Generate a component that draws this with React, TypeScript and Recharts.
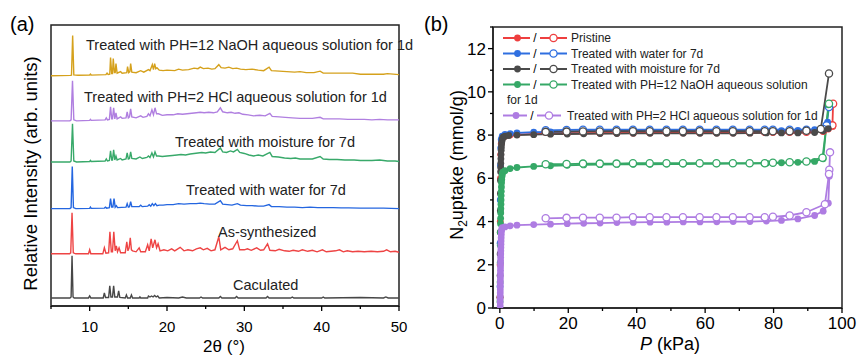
import React from 'react';
import { LineChart, Line, XAxis, YAxis, ReferenceArea } from 'recharts';

const FONT = '"Liberation Sans", Arial, sans-serif';

// ---------- (a) PXRD patterns: [2theta, intensity above own baseline] ----------
const XRD_LABELS = [
  'Caculated',
  'As-synthesized',
  'Treated with water for 7d',
  'Treated with moisture for 7d',
  'Treated with PH=2 HCl aqueous solution for 1d',
  'Treated with PH=12 NaOH aqueous solution for 1d',
];
const XRD_COLORS = ['#474747', '#EE4444', '#2466E0', '#38A96A', '#B07FE0', '#D5A11C'];
const XRD_OFFSETS = [8, 52, 97, 143.5, 184.5, 229.5];

const calculated: [number, number][] = [
  [5, 0], [7.45, 0], [7.6, 1], [7.72, 42], [7.85, 1], [8, 0], [9.85, 0], [10, 2], [10.15, 0],
  [11.75, 0], [11.9, 5], [12.05, 0.5], [12.45, 0.5], [12.6, 12], [12.75, 1], [12.95, 1], [13.1, 12],
  [13.25, 1], [13.6, 1], [13.75, 7], [13.9, 0.5], [14.6, 0], [14.75, 3], [14.9, 0], [15.25, 0],
  [15.4, 3], [15.55, 0], [16.4, 0], [16.5, 1], [16.6, 0], [17.5, 0], [17.6, 2], [17.8, 1], [18.0, 2],
  [18.2, 1], [18.4, 2.5], [18.6, 1], [18.8, 2], [19.0, 0], [20, 0.5], [21.5, 0], [22, 1], [22.5, 0],
  [24.2, 0], [24.4, 1], [24.6, 0], [26.7, 0], [26.9, 1.5], [27.1, 0], [28.8, 0], [29, 1.5], [29.2, 0],
  [32.8, 0], [33, 1.5], [33.2, 0], [36, 0], [36.2, 1], [36.4, 0], [40, 0], [40.2, 1], [40.4, 0],
  [45, 0.5], [48, 0], [48.3, 1], [48.6, 0], [50, 0],
];

const asSynthesized: [number, number][] = [
  [5, 0], [7.4, 0], [7.55, 1], [7.72, 41], [7.88, 1], [8.2, 0], [9.85, 0], [10.0, 4], [10.15, 0],
  [11.7, 0], [11.9, 6], [12.1, 0.5], [12.45, 1], [12.62, 22], [12.8, 2], [12.95, 2], [13.12, 22],
  [13.3, 3], [13.45, 8], [13.6, 2], [13.8, 6], [14.0, 1], [14.6, 1], [14.8, 12], [14.95, 3], [15.1, 6],
  [15.25, 16], [15.4, 4], [15.55, 3], [16.0, 2], [16.4, 6], [16.6, 2], [17.2, 2], [17.5, 9], [17.7, 3],
  [17.95, 15], [18.15, 6], [18.45, 14], [18.65, 6], [18.85, 10], [19.1, 3], [19.6, 4], [20.1, 3],
  [20.6, 5], [21.0, 3], [21.7, 6.5], [22.2, 3], [22.7, 4], [23.3, 3], [23.8, 5], [24.3, 6], [24.7, 4],
  [25.2, 5.5], [25.7, 3], [26.2, 4], [26.7, 17], [26.95, 4], [27.5, 6.5], [28.0, 4], [28.5, 5],
  [29.1, 13], [29.4, 4], [30.0, 4], [30.4, 5], [30.9, 3.5], [31.6, 6], [32.1, 3.5], [32.5, 4],
  [33.0, 10], [33.3, 3.5], [34.0, 3], [34.5, 4.5], [35.2, 3], [35.8, 2.5], [36.3, 3.5], [37.0, 2.5],
  [37.5, 4], [38.2, 2.5], [38.8, 3.5], [39.4, 2], [40.1, 4], [40.6, 2], [41.2, 2.5], [41.8, 3],
  [42.3, 4], [42.8, 2], [43.3, 3], [44.0, 2], [44.7, 2.5], [45.5, 2], [46.4, 2.5], [47.2, 2],
  [48.0, 2.5], [48.4, 4], [48.9, 2], [49.5, 2.5], [50, 1.5],
];

const water: [number, number][] = [
  [5, 0], [7.45, 0], [7.6, 1], [7.75, 42], [7.9, 1], [8.2, 0], [10.0, 0.3], [10.1, 1.5], [10.2, 0.3],
  [11.9, 0.5], [12.05, 1.5], [12.2, 0.5], [12.55, 1], [12.7, 10], [12.85, 1.5], [13.0, 1.5],
  [13.15, 10], [13.3, 1.5], [13.45, 3], [13.6, 1], [14.7, 1.5], [14.85, 5], [15.0, 1.5], [15.15, 2],
  [15.3, 7], [15.45, 2], [16.4, 2], [16.6, 3.5], [16.8, 2], [17.5, 2.5], [17.7, 4], [17.9, 2.5],
  [18.1, 5], [18.3, 3], [18.5, 5], [18.7, 3], [19.0, 3.5], [19.5, 3.5], [20.0, 4], [20.8, 4],
  [21.5, 5], [22.2, 4.5], [23.0, 5], [23.8, 5], [24.3, 5.5], [24.8, 5], [25.5, 4.5], [26.2, 4.5],
  [26.9, 8], [27.2, 4.5], [27.8, 4], [28.4, 3.5], [29.1, 5], [29.5, 3.5], [30.3, 3], [31.0, 3],
  [31.8, 2.5], [32.5, 2.5], [33.2, 4], [33.5, 2], [34.5, 2], [35.5, 1.5], [36.5, 1.5], [37.5, 1],
  [38.5, 1.5], [39.5, 1], [40.5, 1], [41.5, 1], [42.5, 0.8], [43.5, 0.8], [45, 0.5], [46.5, 0.5],
  [48, 0.5], [49, 0.3], [50, 0],
];

const moisture: [number, number][] = [
  [5, 0], [7.45, 0], [7.6, 1], [7.78, 38], [7.95, 1], [8.3, 0], [10.0, 0.5], [10.1, 1.5], [10.2, 0.5],
  [12.0, 1], [12.15, 3], [12.3, 1], [12.55, 1.5], [12.7, 11], [12.85, 2], [12.95, 2], [13.1, 12],
  [13.25, 2], [13.4, 6], [13.55, 2], [14.0, 3.5], [14.2, 2], [14.7, 3], [14.85, 9], [15.0, 3],
  [15.15, 3.5], [15.3, 10], [15.45, 3.5], [16.0, 3], [16.5, 5], [16.8, 3.5], [17.4, 4.5], [17.6, 6],
  [17.8, 4.5], [18.05, 9], [18.25, 5], [18.45, 10], [18.65, 6], [18.9, 6], [19.4, 5.5], [20.0, 6],
  [20.7, 6.5], [21.3, 7], [21.8, 7.5], [22.4, 7], [23.0, 8], [23.5, 8.5], [24.0, 9], [24.5, 9.5],
  [25.0, 9], [25.6, 10], [26.2, 9.5], [26.9, 14], [27.2, 10], [27.7, 9.5], [28.2, 11], [28.6, 10],
  [29.1, 12.5], [29.4, 9.5], [30.0, 8.5], [30.6, 7], [31.2, 6], [31.8, 7], [32.4, 6], [33.3, 9.5],
  [33.6, 5.5], [34.4, 5], [35.2, 4], [36.0, 3.5], [36.6, 4], [37.2, 3], [38.0, 3], [38.8, 3],
  [39.8, 5.5], [40.2, 3], [41.0, 2.5], [42.0, 2.5], [43.0, 2], [44.2, 2], [45.0, 1.5], [46.5, 1.5],
  [47.5, 2], [48.5, 1], [49.5, 1], [50, 0.5],
];

const hcl: [number, number][] = [
  [5, 0], [7.45, 0], [7.6, 1], [7.78, 40], [7.95, 1], [8.3, 0], [10.0, 0.5], [10.1, 1.5], [10.2, 0.5],
  [12.0, 1], [12.15, 3], [12.3, 1], [12.55, 1.5], [12.7, 14], [12.85, 2], [12.95, 2], [13.1, 13],
  [13.25, 2], [13.4, 8], [13.55, 2], [14.0, 4], [14.2, 2.5], [14.7, 3], [14.85, 9], [15.0, 3],
  [15.15, 4], [15.3, 12], [15.45, 4], [16.0, 3], [16.6, 5], [16.9, 3.5], [17.4, 4.5], [17.6, 7],
  [17.8, 5], [18.05, 11], [18.25, 6], [18.45, 13], [18.65, 7], [18.9, 7], [19.4, 5.5], [20.0, 6],
  [20.8, 6], [21.4, 7], [22.0, 6.5], [22.6, 7], [23.2, 7.5], [23.8, 8], [24.3, 8.5], [24.8, 8],
  [25.4, 8.5], [26.0, 8], [26.5, 9], [26.9, 13], [27.2, 9], [27.8, 8], [28.3, 8.5], [28.8, 7.5],
  [29.3, 8], [29.8, 6.5], [30.5, 6], [31.2, 5], [32.0, 5.5], [32.7, 5], [33.3, 7.5], [33.6, 4.5],
  [34.5, 4], [35.3, 3.5], [36.2, 3], [37.2, 2.5], [38.0, 2.5], [38.8, 2.5], [39.8, 3.5], [40.2, 2],
  [41.2, 2], [42.3, 2], [43.4, 1.5], [44.5, 1.5], [45.5, 1.5], [46.5, 1], [47.5, 1.5], [48.5, 1],
  [49.5, 1], [50, 1],
];

const naoh: [number, number][] = [
  [5, 0], [7.5, 0.3], [7.65, 0.5], [7.8, 40], [7.95, 0.8], [8.5, 0.4], [10, 0.6], [10.1, 1.5],
  [10.2, 0.6], [12.1, 1], [12.25, 2.5], [12.4, 1.2], [12.6, 1.5], [12.7, 18], [12.85, 2], [12.95, 2],
  [13.05, 17], [13.2, 3], [13.3, 3], [13.4, 12], [13.55, 2.5], [14.0, 4], [14.2, 2.5], [14.8, 3],
  [14.9, 9], [15.05, 3], [15.2, 4], [15.3, 12], [15.45, 3.5], [16.0, 3], [16.6, 5], [17.0, 3.5],
  [17.6, 6], [17.8, 5], [18.1, 11], [18.25, 6], [18.4, 12], [18.55, 7], [18.7, 8], [19, 5.5],
  [19.5, 5], [20, 5.5], [21, 5], [21.5, 6.5], [22, 5.5], [22.8, 6], [23.5, 7.5], [24, 7], [24.3, 8.5],
  [24.7, 7], [25.3, 7.5], [25.8, 6.5], [26.2, 7], [26.7, 11], [27, 8], [27.5, 7.5], [28, 8.5],
  [28.5, 7], [29, 7.5], [29.5, 6.5], [30.2, 6], [31, 6.5], [31.8, 5.5], [32.5, 5], [33.2, 8.5],
  [33.5, 5], [34.5, 4.5], [35.5, 4], [36.5, 3.5], [37.2, 4], [38, 3], [39, 3], [39.8, 4.5],
  [40.2, 2.5], [41.5, 2.5], [42.5, 2.5], [44, 2.5], [45, 1.5], [46.5, 1.5], [48, 1.5], [48.5, 2],
  [50, 1],
];

const XRD_SERIES = [calculated, asSynthesized, water, moisture, hcl, naoh];
const XRD_TICKS = [5, 10, 15, 20, 25, 30, 35, 40, 45, 50];
const XRD_MAJOR = [10, 20, 30, 40, 50];

// ---------- (b) N2 isotherms: [P kPa, uptake mmol/g] ----------
const ISO_LABELS = [
  'Pristine',
  'Treated with water for 7d',
  'Treated with moisture for 7d',
  'Treated with PH=12 NaOH aqueous solution',
  'Treated with PH=2 HCl aqueous solution for 1d',
];
const ISO_COLORS = ['#EE3F3F', '#2F6FE0', '#4A4A4A', '#35A866', '#AE7CE2'];

const pristineAds: [number, number][] = [
  [0.05, 0.5], [0.08, 2], [0.12, 4], [0.18, 6], [0.25, 7.1], [0.4, 7.6], [0.7, 7.85], [1.5, 7.95],
  [3, 8.0], [5, 8.02], [9.9, 8.05], [14.8, 8.06], [19.7, 8.07], [24.5, 8.08], [29.3, 8.08],
  [34.2, 8.09], [39, 8.09], [43.9, 8.1], [48.8, 8.1], [53.6, 8.1], [58.5, 8.1], [63.4, 8.1],
  [68.2, 8.1], [73.1, 8.1], [77.9, 8.12], [82.3, 8.12], [87.1, 8.14], [92, 8.18], [94.5, 8.22],
  [96, 8.28], [97.3, 8.4],
];
const pristineDes: [number, number][] = [
  [97.4, 9.45], [97.2, 8.45], [94.5, 8.2], [89.6, 8.15], [84.7, 8.15], [79.8, 8.15], [77.4, 8.15],
  [73, 8.15], [68.1, 8.15], [63.3, 8.15], [58.4, 8.15], [53.5, 8.15], [48.7, 8.15], [43.8, 8.15],
  [38.9, 8.15], [34.1, 8.15], [29.2, 8.15], [24.3, 8.15], [19.5, 8.15], [13.4, 8.15],
];
const waterAds: [number, number][] = [
  [0.05, 1], [0.08, 3], [0.12, 5], [0.18, 6.6], [0.25, 7.4], [0.4, 7.8], [0.7, 7.95], [1.5, 8.03],
  [3, 8.07], [5, 8.1], [9.9, 8.13], [14.8, 8.15], [19.7, 8.17], [24.5, 8.18], [29.3, 8.19],
  [34.2, 8.2], [39, 8.2], [43.9, 8.2], [48.8, 8.2], [53.6, 8.2], [58.5, 8.2], [63.4, 8.2],
  [68.2, 8.2], [73.1, 8.2], [77.9, 8.2], [82.3, 8.2], [87.1, 8.22], [92, 8.25], [94.5, 8.3],
  [95.8, 8.6],
];
const waterDes: [number, number][] = [
  [96.2, 9.3], [95.5, 8.45], [94.5, 8.28], [89.6, 8.25], [84.7, 8.25], [79.8, 8.25], [77.4, 8.25],
  [73, 8.25], [68.1, 8.25], [63.3, 8.25], [58.4, 8.25], [53.5, 8.25], [48.7, 8.25], [43.8, 8.25],
  [38.9, 8.25], [34.1, 8.25], [29.2, 8.25], [24.3, 8.25], [19.5, 8.24], [13.4, 8.22],
];
const moistureAds: [number, number][] = [
  [0.05, 0.5], [0.07, 1.5], [0.09, 2.5], [0.11, 3.5], [0.13, 4.5], [0.16, 5.3], [0.19, 5.9],
  [0.22, 6.3], [0.25, 6.5], [0.28, 6.7], [0.31, 6.9], [0.35, 7.1], [0.4, 7.3], [0.45, 7.45],
  [0.52, 7.6], [0.6, 7.72], [0.75, 7.82], [0.95, 7.9], [1.5, 7.95], [2.6, 7.98], [5, 8.0],
  [9.9, 8.02], [14.8, 8.04], [19.7, 8.05], [24.5, 8.06], [29.3, 8.07], [34.2, 8.07], [39, 8.08],
  [43.9, 8.08], [48.8, 8.08], [53.6, 8.08], [58.5, 8.08], [63.4, 8.08], [68.2, 8.08], [73.1, 8.09],
  [77.9, 8.1], [82.3, 8.1], [87.1, 8.1], [92, 8.12], [94.5, 8.2], [96, 8.3],
];
const moistureDes: [number, number][] = [
  [96.2, 10.85], [93.8, 8.28], [89.6, 8.2], [84.7, 8.18], [79.8, 8.18], [77.4, 8.18], [73, 8.18],
  [68.1, 8.18], [63.3, 8.18], [58.4, 8.18], [53.5, 8.18], [48.7, 8.18], [43.8, 8.18], [38.9, 8.18],
  [34.1, 8.18], [29.2, 8.17], [24.3, 8.17], [19.5, 8.16], [13.4, 8.15],
];
const naohAds: [number, number][] = [
  [0.05, 0.3], [0.08, 1.2], [0.11, 2.1], [0.14, 2.9], [0.17, 3.5], [0.2, 3.9], [0.23, 4.15],
  [0.26, 4.4], [0.29, 4.6], [0.32, 4.8], [0.35, 5.0], [0.38, 5.2], [0.42, 5.4], [0.46, 5.6],
  [0.5, 5.8], [0.56, 5.95], [0.63, 6.1], [0.72, 6.2], [0.85, 6.28], [1.5, 6.35], [3, 6.45], [5, 6.5],
  [9.9, 6.55], [14.8, 6.58], [19.7, 6.6], [24.5, 6.62], [29.3, 6.63], [34.2, 6.64], [39, 6.65],
  [43.9, 6.65], [48.8, 6.66], [53.6, 6.66], [58.5, 6.67], [63.4, 6.67], [68.2, 6.68], [73.1, 6.68],
  [77.9, 6.7], [82.3, 6.72], [87.1, 6.74], [92, 6.78], [94.5, 6.9], [96, 9.4],
];
const naohDes: [number, number][] = [
  [96.2, 9.45], [94.3, 6.95], [89.6, 6.78], [84.7, 6.74], [79.8, 6.72], [77.4, 6.7], [73, 6.7],
  [68.1, 6.7], [63.3, 6.7], [58.4, 6.7], [53.5, 6.7], [48.7, 6.7], [43.8, 6.7], [38.9, 6.7],
  [34.1, 6.68], [29.2, 6.68], [24.3, 6.68], [19.5, 6.66], [13.4, 6.65],
];
const hclAds: [number, number][] = [
  [0.1, 0.1], [0.1, 0.25], [0.1, 0.4], [0.12, 0.55], [0.12, 0.7], [0.13, 0.85], [0.14, 1.0],
  [0.15, 1.15], [0.16, 1.3], [0.17, 1.45], [0.18, 1.6], [0.19, 1.75], [0.2, 1.9], [0.21, 2.05],
  [0.22, 2.2], [0.24, 2.35], [0.26, 2.5], [0.28, 2.65], [0.3, 2.8], [0.32, 2.95], [0.35, 3.1],
  [0.38, 3.25], [0.42, 3.4], [0.47, 3.55], [0.55, 3.65], [0.7, 3.72], [1.5, 3.75], [3, 3.8],
  [5, 3.83], [9.9, 3.86], [14.8, 3.88], [19.7, 3.9], [24.5, 3.92], [29.3, 3.93], [34.2, 3.95],
  [39, 3.96], [43.9, 3.97], [48.8, 3.97], [53.6, 3.98], [58.5, 3.98], [63.4, 3.99], [68.2, 4.0],
  [73.1, 4.0], [77.9, 4.02], [82.3, 4.05], [87.1, 4.12], [92, 4.28], [94.5, 4.48], [96, 4.85],
  [96.3, 6.1],
];
const hclDes: [number, number][] = [
  [96.5, 7.2], [96.3, 6.4], [96.2, 6.2], [95, 4.8], [89.6, 4.43], [84.7, 4.28], [79.8, 4.22],
  [77.4, 4.2], [73, 4.2], [68.1, 4.2], [63.3, 4.2], [58.4, 4.2], [53.5, 4.2], [48.7, 4.2],
  [43.8, 4.2], [38.9, 4.2], [34.1, 4.18], [29.2, 4.18], [24.3, 4.18], [19.5, 4.17], [13.4, 4.15],
];

const ISO_ADS = [pristineAds, waterAds, moistureAds, naohAds, hclAds];
const ISO_DES = [pristineDes, waterDes, moistureDes, naohDes, hclDes];
const ISO_X_TICKS = [0, 10, 20, 30, 40, 50, 60, 70, 80, 90, 100];
const ISO_X_MAJOR = [0, 20, 40, 60, 80, 100];
const ISO_Y_TICKS = [0, 1, 2, 3, 4, 5, 6, 7, 8, 9, 10, 11, 12, 13];
const ISO_Y_MAJOR = [0, 2, 4, 6, 8, 10, 12];

const toRows = (pts: [number, number][], offset = 0) => pts.map(([x, y]) => ({ x, y: y + offset }));

// tick lines drawn by hand so major and minor ticks can differ in length
const bottomTick = (majors: number[], fontSize: number, dy: number) => (props: any) => {
  const { x, y, payload } = props;
  const major = majors.includes(payload.value);
  return (
    <g>
      <line x1={x} x2={x} y1={y} y2={y + (major ? 5 : 3)} stroke="#000" strokeWidth={1.3} />
      {major && (
        <text x={x} y={y + dy} textAnchor="middle" fontSize={fontSize} fill="#000" fontFamily={FONT}>
          {payload.value}
        </text>
      )}
    </g>
  );
};

const leftTick = (majors: number[], fontSize: number) => (props: any) => {
  const { x, y, payload } = props;
  const major = majors.includes(payload.value);
  return (
    <g>
      <line x1={x} x2={x - (major ? 5 : 3)} y1={y} y2={y} stroke="#000" strokeWidth={1.3} />
      {major && (
        <text x={x - 7} y={y + fontSize * 0.36} textAnchor="end" fontSize={fontSize} fill="#000" fontFamily={FONT}>
          {payload.value}
        </text>
      )}
    </g>
  );
};

const XrdPanel = () => (
  <LineChart width={420} height={356} margin={{ top: 25, right: 21, bottom: 20, left: 51 }}>
    <XAxis
      type="number" dataKey="x" domain={[5, 50]} ticks={XRD_TICKS} interval={0} height={30}
      tickSize={0} tickMargin={0} tickLine={false} tick={bottomTick(XRD_MAJOR, 15, 26)}
      axisLine={{ stroke: '#222', strokeWidth: 1.5 }} allowDataOverflow
    />
    <YAxis type="number" dataKey="y" domain={[0, 280]} hide allowDataOverflow />
    {XRD_SERIES.map((pts, i) => (
      <Line
        key={XRD_LABELS[i]} data={toRows(pts, XRD_OFFSETS[i])} dataKey="y" type="linear"
        stroke={XRD_COLORS[i]} strokeWidth={1.4} dot={false} isAnimationActive={false}
      />
    ))}
    <ReferenceArea x1={5} x2={50} y1={0} y2={280} fill="none" stroke="#222" strokeWidth={1.5} />
  </LineChart>
);

const IsoPanel = () => (
  <LineChart width={438} height={356} margin={{ top: 27, right: 16, bottom: 18, left: 13 }}>
    <XAxis
      type="number" dataKey="x" domain={[-2, 100]} ticks={ISO_X_TICKS} interval={0} height={30}
      tickSize={0} tickMargin={0} tickLine={false} tick={bottomTick(ISO_X_MAJOR, 17, 20.5)}
      axisLine={{ stroke: '#222', strokeWidth: 1.5 }} allowDataOverflow
    />
    <YAxis
      type="number" dataKey="y" domain={[0, 13]} ticks={ISO_Y_TICKS} interval={0} width={60}
      tickSize={0} tickMargin={0} tickLine={false} tick={leftTick(ISO_Y_MAJOR, 17)}
      axisLine={{ stroke: '#222', strokeWidth: 1.5 }} allowDataOverflow
    />
    {ISO_ADS.map((pts, i) => [
      <Line
        key={`a${i}`} data={toRows(pts)} dataKey="y" type="linear" stroke={ISO_COLORS[i]} strokeWidth={1.8}
        dot={{ r: 3.4, fill: ISO_COLORS[i], stroke: ISO_COLORS[i], strokeWidth: 0 }} isAnimationActive={false}
      />,
      <Line
        key={`d${i}`} data={toRows(ISO_DES[i])} dataKey="y" type="linear" stroke={ISO_COLORS[i]} strokeWidth={1.8}
        dot={{ r: 3.6, fill: '#fff', stroke: ISO_COLORS[i], strokeWidth: 1.3 }} isAnimationActive={false}
      />,
    ])}
    <ReferenceArea x1={-2} x2={100} y1={0} y2={13} fill="none" stroke="#222" strokeWidth={1.5} />
  </LineChart>
);

// XRD annotation placement (left x, baseline y)
const XRD_TEXT_POS: [number, number][] = [[233, 290], [218, 237], [186, 195], [175, 147], [84, 102], [86, 50]];
const LEGEND_ROWS = [38, 53.5, 69, 84.5, 115.5];

const LegendSymbol = ({ y, color, short }: { y: number; color: string; short?: boolean }) => {
  const w = short ? 24 : 27;
  const x0 = 503;
  const x1 = x0 + w + 10;
  return (
    <g>
      <line x1={x0} x2={x0 + w} y1={y} y2={y} stroke={color} strokeWidth={2} />
      <circle cx={x0 + w / 2 + 1} cy={y} r={3.4} fill={color} />
      <text x={x0 + w + 5} y={y + 4.3} textAnchor="middle" fontSize={12} fill="#000" fontFamily={FONT}>/</text>
      <line x1={x1} x2={x1 + w} y1={y} y2={y} stroke={color} strokeWidth={2} />
      <circle cx={x1 + w / 2} cy={y} r={3.6} fill="#fff" stroke={color} strokeWidth={1.3} />
    </g>
  );
};

export default function App() {
  return (
    <div style={{ position: 'fixed', left: 0, top: 0, width: 858, height: 356, background: '#fff', fontFamily: FONT }}>
      <div style={{ position: 'absolute', left: 0, top: 0 }}>
        <XrdPanel />
      </div>
      <div style={{ position: 'absolute', left: 420, top: 0 }}>
        <IsoPanel />
      </div>
      <svg width={858} height={356} style={{ position: 'absolute', left: 0, top: 0, pointerEvents: 'none' }} fontFamily={FONT}>
        <text x={10} y={31} fontSize={20} fill="#000">(a)</text>
        <text x={424} y={31} fontSize={20} fill="#000">(b)</text>

        {XRD_LABELS.map((t, i) => (
          <text key={t} x={XRD_TEXT_POS[i][0]} y={XRD_TEXT_POS[i][1]} fontSize={14.5} fill="#222">{t}</text>
        ))}
        <text transform="rotate(-90)" x={-173.5} y={37} textAnchor="middle" fontSize={18.5} fill="#000">
          Relative Intensity (arb. units)
        </text>
        <text x={224} y={352} textAnchor="middle" fontSize={17} fill="#000">2θ (°)</text>

        <text transform="rotate(-90)" x={-165} y={463} textAnchor="middle" fontSize={18} fill="#000">
          N<tspan fontSize={12} dy={4}>2</tspan><tspan dy={-4}>uptake (mmol/g)</tspan>
        </text>
        <text x={670} y={350} textAnchor="middle" fontSize={18} fill="#000">
          <tspan fontStyle="italic">P</tspan> (kPa)
        </text>

        {ISO_LABELS.map((t, i) => {
          const short = i === 4;
          return (
            <g key={t}>
              <LegendSymbol y={LEGEND_ROWS[i]} color={ISO_COLORS[i]} short={short} />
              <text x={short ? 567 : 571} y={LEGEND_ROWS[i] + 4.3} fontSize={12} fill="#222">{t}</text>
            </g>
          );
        })}
        <text x={507} y={103.5} fontSize={12} fill="#222">for 1d</text>
      </svg>
    </div>
  );
}
